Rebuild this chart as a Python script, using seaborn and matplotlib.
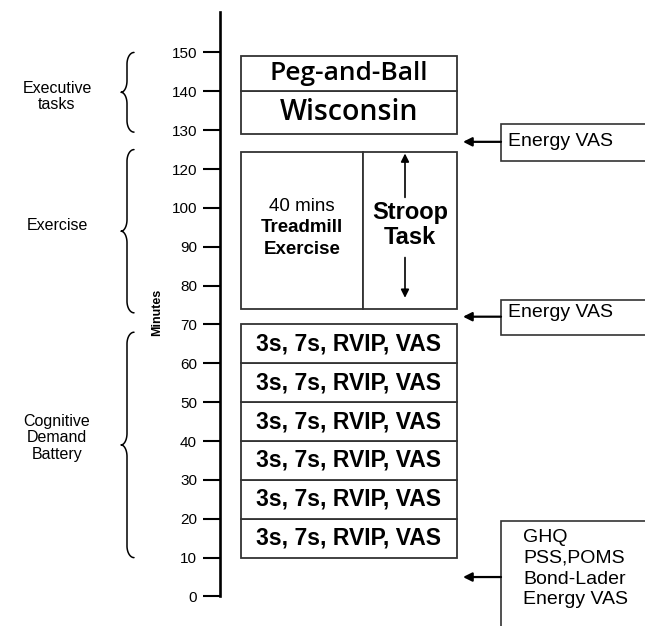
import numpy as np
import matplotlib
matplotlib.use("Agg")
import matplotlib.pyplot as plt
import seaborn as sns

# time axis ticks (the original has no 110 tick, spacing is per tick)
tick_minutes = [0, 10, 20, 30, 40, 50, 60, 70, 80, 90, 100, 120, 130, 140, 150]

# cognitive demand battery: six 10 minute blocks
battery_starts = [10, 20, 30, 40, 50, 60]
battery_ends = [20, 30, 40, 50, 60, 70]
battery_label = "3s, 7s, RVIP, VAS"

# exercise block with the stroop task
exercise_start = 74
exercise_end = 124.5
exercise_lines = ["40 mins", "Treadmill", "Exercise"]
stroop_label = "Stroop\nTask"

# executive tasks
exec_labels = ["Wisconsin", "Peg-and-Ball"]
exec_starts = [129, 140]
exec_ends = [140, 149]

# phases marked with braces
phase_labels = ["Executive\ntasks", "Exercise", "Cognitive\nDemand\nBattery"]
phase_starts = [129.5, 73, 10]
phase_ends = [150, 125, 68]

# questionnaires: arrow time and box span
measure_times = [127, 72, 5]
measure_tops = [131.5, 76.3, 19.5]
measure_bottoms = [122, 67.3, -20]
measure_labels = [["Energy VAS"], ["Energy VAS"],
                  ["GHQ", "PSS,POMS", "Bond-Lader", "Energy VAS"]]

sns.set_theme(style="white")
plt.rcParams["font.family"] = ["Liberation Sans", "DejaVu Sans"]
plt.rcParams["text.color"] = "black"

# piecewise scale: every tick gets the same space
anchor_min = np.array([-20] + tick_minutes + [180], dtype=float)
anchor_idx = np.array([-2] + list(range(len(tick_minutes))) + [len(tick_minutes) + 2], dtype=float)


def fwd(m):
    return np.interp(m, anchor_min, anchor_idx)


def inv(i):
    return np.interp(i, anchor_idx, anchor_min)


def mid(a, b):
    return inv((fwd(a) + fwd(b)) / 2)


fig = plt.figure(figsize=(6.45, 6.26), dpi=100)
ax = fig.add_axes([0, 0, 1, 1])
ax.set_yscale("function", functions=(fwd, inv))
ax.set_xlim(0, 645)
ax.set_ylim(inv(-0.76), inv(15.35))

for s in ["top", "right", "bottom"]:
    ax.spines[s].set_visible(False)
ax.spines["left"].set_position(("data", 220))
ax.spines["left"].set_bounds(0, inv(15.05))
ax.spines["left"].set_linewidth(1.9)
ax.spines["left"].set_color("black")
ax.set_xticks([])
ax.set_yticks(tick_minutes)
ax.set_yticklabels([str(t) for t in tick_minutes])
ax.yaxis.set_minor_locator(matplotlib.ticker.NullLocator())
ax.tick_params(axis="y", left=True, direction="out", length=12.5, width=1.5,
               color="black", pad=4, labelsize=11, labelcolor="black")
ax.set_ylabel("Minutes", fontsize=9, fontweight="bold", color="black")
ax.yaxis.set_label_coords(163 / 645, 1 - 312 / 626)

edge = "#333333"
bl, br, bdiv = 241, 457, 363

# battery blocks
for s, e in zip(battery_starts, battery_ends):
    ax.bar((bl + br) / 2, e - s, bottom=s, width=br - bl, color="white",
           edgecolor=edge, linewidth=1.3)
    ax.text((bl + br) / 2, mid(s, e), battery_label, ha="center", va="center",
            fontsize=16.5, fontweight="bold")

# exercise + stroop
ax.bar((bl + bdiv) / 2, exercise_end - exercise_start, bottom=exercise_start,
       width=bdiv - bl, color="white", edgecolor=edge, linewidth=1.3)
ax.bar((bdiv + br) / 2, exercise_end - exercise_start, bottom=exercise_start,
       width=br - bdiv, color="white", edgecolor=edge, linewidth=1.3)
ex_mid = mid(exercise_start, exercise_end)
for line, off, w in zip(exercise_lines, [17, 1.8, -14], ["normal", "bold", "bold"]):
    ax.annotate(line, ((bl + bdiv) / 2, ex_mid), xytext=(0, off),
                textcoords="offset points", ha="center", va="center",
                fontsize=13.5, fontweight=w)
ax.annotate(stroop_label, ((bdiv + br) / 2, ex_mid), xytext=(0, 3.6),
            textcoords="offset points", ha="center", va="center",
            fontsize=17, fontweight="bold", linespacing=1.1)
arrow_kw = dict(arrowstyle="-|>", lw=1.2, color="black", mutation_scale=12, shrinkA=0)
ax.annotate("", (405, exercise_end), xytext=(0, -33), textcoords="offset points",
            arrowprops=dict(arrow_kw, shrinkB=1.4))
ax.annotate("", (405, exercise_start), xytext=(0, 37), textcoords="offset points",
            arrowprops=dict(arrow_kw, shrinkB=8))

# executive tasks
for lab, s, e, fs in zip(exec_labels, exec_starts, exec_ends, [20.5, 19]):
    ax.bar((bl + br) / 2, e - s, bottom=s, width=br - bl, color="white",
           edgecolor=edge, linewidth=1.3)
    ax.text((bl + br) / 2, mid(s, e), lab, ha="center", va="center",
            fontsize=fs, family="Open Sans", fontweight="semibold")

# braces on the left
for lab, lo, hi, off in zip(phase_labels, phase_starts, phase_ends, [-3, 4, 5]):
    a, b = fwd(lo), fwd(hi)
    m = (a + b) / 2
    r = 0.3
    xa, xm, xt = 134, 127, 121
    th = np.linspace(0, np.pi / 2, 25)
    lx = np.concatenate([xa - (xa - xm) * np.sin(th), xm - (xm - xt) * (1 - np.cos(th))])
    ly = np.concatenate([a + r * (1 - np.cos(th)), m - r + r * np.sin(th)])
    bx = np.concatenate([lx, lx[::-1]])
    by = np.concatenate([ly, (2 * m - ly)[::-1]])
    ax.plot(bx, inv(by), color="black", lw=1.1)
    ax.annotate(lab, (57, inv(m)), xytext=(0, off), textcoords="offset points",
                ha="center", va="center", fontsize=11.5, linespacing=1.15)

# questionnaire boxes + arrows
first_off = [-12.5, -9, -12.2]
for t, top, bot, lines, f0 in zip(measure_times, measure_tops, measure_bottoms,
                                  measure_labels, first_off):
    ax.bar(501, top - bot, bottom=bot, width=300, align="edge", color="white",
           edgecolor=edge, linewidth=1.2)
    ax.annotate("", (463, t), xytext=(501, t),
                arrowprops=dict(arrowstyle="-|>", lw=1.6, color="black",
                                mutation_scale=13, shrinkA=0, shrinkB=0))
    x0 = 508 if len(lines) == 1 else 523
    for i, line in enumerate(lines):
        ax.annotate(line, (x0, top), xytext=(0, f0 - 14.9 * i),
                    textcoords="offset points", ha="left", va="center", fontsize=14)

fig.savefig("out.png", dpi=100)
